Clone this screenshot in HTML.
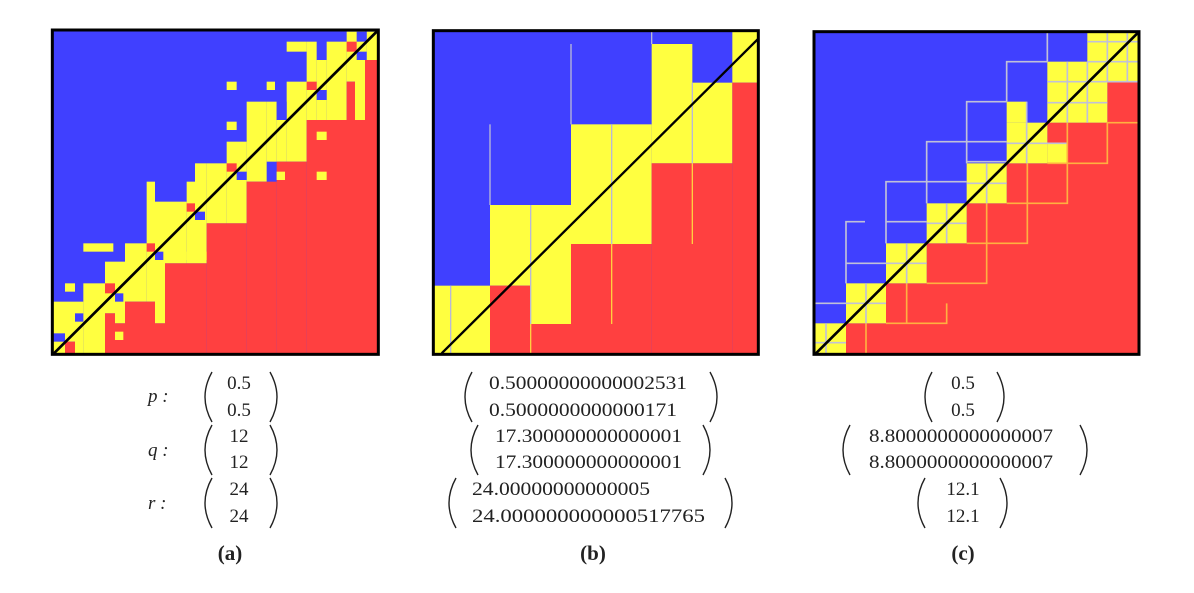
<!DOCTYPE html>
<html><head><meta charset="utf-8"><style>
html,body{margin:0;padding:0;background:#fff;}
svg{display:block;}
text{font-family:"Liberation Serif",serif;fill:#222;}
</style></head><body>
<svg width="1194" height="593" viewBox="0 0 1194 593" xmlns="http://www.w3.org/2000/svg">
<rect width="1194" height="593" fill="#fff"/>

<!-- Panel (a) -->
<svg x="40" y="20" width="350" height="345" viewBox="0 0 1050 1035">
<rect x="37" y="30" width="978" height="973" fill="#4040ff"/>
<g fill="#ffff40">
<rect x="37" y="845" width="38" height="158"/>
<rect x="75" y="845" width="30" height="120"/>
<rect x="105" y="845" width="25" height="158"/>
<rect x="130" y="790" width="65" height="213"/>
<rect x="130" y="670" width="90" height="25"/>
<rect x="195" y="725" width="30" height="155"/>
<rect x="225" y="725" width="30" height="185"/>
<rect x="255" y="670" width="65" height="175"/>
<rect x="320" y="485" width="25" height="360"/>
<rect x="345" y="545" width="30" height="365"/>
<rect x="375" y="545" width="65" height="185"/>
<rect x="440" y="485" width="25" height="245"/>
<rect x="465" y="430" width="35" height="300"/>
<rect x="440" y="695" width="120" height="25"/>
<rect x="500" y="430" width="60" height="180"/>
<rect x="560" y="365" width="60" height="245"/>
<rect x="620" y="245" width="60" height="240"/>
<rect x="680" y="245" width="30" height="180"/>
<rect x="710" y="300" width="30" height="125"/>
<rect x="740" y="185" width="60" height="240"/>
<rect x="800" y="65" width="30" height="235"/>
<rect x="830" y="120" width="30" height="180"/>
<rect x="860" y="65" width="60" height="235"/>
<rect x="920" y="35" width="55" height="150"/>
<rect x="950" y="65" width="30" height="55"/>
<rect x="980" y="35" width="35" height="85"/>
<rect x="740" y="65" width="60" height="30"/>
<rect x="75" y="790" width="30" height="25"/>
<rect x="560" y="185" width="30" height="25"/>
<rect x="680" y="185" width="25" height="25"/>
<rect x="560" y="305" width="30" height="25"/>
<rect x="830" y="335" width="30" height="25"/>
<rect x="710" y="455" width="25" height="25"/>
<rect x="830" y="455" width="30" height="25"/>
<rect x="945" y="120" width="30" height="180"/>
</g>
<g fill="#ff4040">
<rect x="75" y="965" width="30" height="38"/>
<rect x="195" y="880" width="30" height="123"/>
<rect x="225" y="910" width="30" height="93"/>
<rect x="255" y="845" width="90" height="158"/>
<rect x="345" y="910" width="30" height="93"/>
<rect x="375" y="730" width="125" height="273"/>
<rect x="500" y="610" width="120" height="393"/>
<rect x="620" y="485" width="90" height="518"/>
<rect x="710" y="425" width="90" height="578"/>
<rect x="800" y="300" width="145" height="703"/>
<rect x="945" y="300" width="70" height="703"/>
<rect x="975" y="120" width="40" height="180"/>
<rect x="920" y="185" width="25" height="115"/>
<rect x="195" y="790" width="30" height="30"/>
<rect x="320" y="670" width="25" height="25"/>
<rect x="440" y="550" width="25" height="25"/>
<rect x="560" y="430" width="30" height="25"/>
<rect x="800" y="185" width="30" height="25"/>
<rect x="920" y="65" width="30" height="30"/>
</g>
<g fill="#ffff40">
<rect x="225" y="935" width="25" height="25"/>
<rect x="830" y="335" width="30" height="25"/>
<rect x="830" y="455" width="30" height="25"/>
<rect x="710" y="455" width="25" height="25"/>
</g>
<g fill="#4040ff">
<rect x="37" y="940" width="38" height="25"/>
<rect x="105" y="880" width="25" height="25"/>
<rect x="225" y="820" width="25" height="25"/>
<rect x="345" y="695" width="25" height="25"/>
<rect x="465" y="575" width="30" height="25"/>
<rect x="590" y="455" width="30" height="25"/>
<rect x="830" y="210" width="30" height="30"/>
<rect x="950" y="95" width="30" height="25"/>
<rect x="950" y="35" width="30" height="30"/>
<rect x="710" y="245" width="30" height="55"/>
<rect x="345" y="575" width="95" height="0"/>
</g>
<line x1="42" y1="1000" x2="1012" y2="33" stroke="#000" stroke-width="8"/>
<rect x="37" y="30" width="978" height="973" fill="none" stroke="#000" stroke-width="9"/>
</svg>

<!-- Panel (b) -->
<svg x="420" y="20" width="350" height="345" viewBox="0 0 1050 1035">
<rect x="40" y="32" width="975" height="971" fill="#4040ff"/>
<g fill="#ffff40">
<rect x="40" y="797" width="170" height="206"/>
<rect x="210" y="555" width="122" height="242"/>
<rect x="332" y="555" width="121" height="357"/>
<rect x="453" y="313" width="242" height="359"/>
<rect x="695" y="72" width="122" height="358"/>
<rect x="817" y="188" width="120" height="242"/>
<rect x="937" y="32" width="78" height="156"/>
</g>
<g fill="#ff4040">
<rect x="210" y="797" width="122" height="206"/>
<rect x="332" y="912" width="121" height="91"/>
<rect x="453" y="672" width="242" height="331"/>
<rect x="695" y="430" width="242" height="573"/>
<rect x="937" y="188" width="78" height="815"/>
</g>
<g stroke="#b8b8d8" stroke-width="4">
<line x1="210" y1="313" x2="210" y2="555"/>
<line x1="453" y1="72" x2="453" y2="313"/>
<line x1="575" y1="313" x2="575" y2="672"/>
<line x1="817" y1="188" x2="817" y2="430"/>
<line x1="92" y1="797" x2="92" y2="1003"/>
<line x1="332" y1="555" x2="332" y2="912"/>
<line x1="695" y1="32" x2="695" y2="72"/>
</g>
<g stroke="#ffd040" stroke-width="4">
<line x1="575" y1="672" x2="575" y2="912"/>
<line x1="817" y1="430" x2="817" y2="672"/>
<line x1="332" y1="912" x2="332" y2="1003"/>
</g>
<line x1="65" y1="1000" x2="1013" y2="58" stroke="#000" stroke-width="7"/>
<rect x="40" y="32" width="975" height="971" fill="none" stroke="#000" stroke-width="9"/>
</svg>

<!-- Panel (c) -->
<svg x="800" y="20" width="350" height="345" viewBox="0 0 1050 1035">
<rect x="42" y="35" width="975" height="968" fill="#4040ff"/>
<polygon fill="#ff4040" points="138,1003 138,910 258,910 258,790 380,790 380,670 500,670 500,550 620,550 620,430 742,430 742,308 922,308 922,185 1017,185 1017,1003"/>
<g fill="#ffff40">
<rect x="42" y="910" width="96" height="93"/>
<rect x="138" y="790" width="120" height="120"/>
<rect x="258" y="670" width="122" height="120"/>
<rect x="380" y="550" width="120" height="120"/>
<rect x="500" y="430" width="120" height="120"/>
<rect x="620" y="245" width="60" height="63"/>
<rect x="620" y="308" width="122" height="122"/>
<rect x="742" y="370" width="60" height="60"/>
<rect x="742" y="125" width="180" height="183"/>
<rect x="862" y="35" width="155" height="150"/>
</g>
<g stroke="#c0c0d8" stroke-width="5" fill="none">
<polyline points="42,850 138,850"/>
<polyline points="138,790 138,605 195,605"/>
<polyline points="138,730 258,730"/>
<polyline points="258,670 258,485 500,485"/>
<polyline points="258,605 380,605"/>
<polyline points="380,550 380,365 620,365"/>
<polyline points="500,425 620,425"/>
<polyline points="500,430 500,245 620,245"/>
<polyline points="620,245 620,125 742,125"/>
<polyline points="742,125 742,35"/>
<line x1="78" y1="910" x2="78" y2="1003"/><line x1="42" y1="968" x2="138" y2="968"/>
<line x1="198" y1="790" x2="198" y2="910"/><line x1="138" y1="850" x2="258" y2="850"/>
<line x1="320" y1="670" x2="320" y2="790"/><line x1="258" y1="730" x2="380" y2="730"/>
<line x1="440" y1="550" x2="440" y2="670"/><line x1="380" y1="610" x2="500" y2="610"/>
<line x1="560" y1="430" x2="560" y2="550"/><line x1="500" y1="490" x2="620" y2="490"/>
<line x1="680" y1="245" x2="680" y2="430"/><line x1="620" y1="370" x2="802" y2="370"/>
<line x1="802" y1="125" x2="802" y2="308"/><line x1="862" y1="125" x2="862" y2="308"/>
<line x1="742" y1="185" x2="1017" y2="185"/><line x1="742" y1="248" x2="922" y2="248"/>
<line x1="922" y1="35" x2="922" y2="185"/><line x1="982" y1="35" x2="982" y2="185"/>
<line x1="862" y1="65" x2="1017" y2="65"/><line x1="862" y1="125" x2="1017" y2="125"/>
</g>
<g stroke="#ffb040" stroke-width="5" fill="none">
<polyline points="198,910 198,1003"/>
<polyline points="320,790 320,910"/>
<polyline points="258,910 440,910 440,850"/>
<polyline points="380,790 560,790 560,550"/>
<polyline points="500,670 682,670 682,430"/>
<polyline points="620,550 802,550 802,308"/>
<polyline points="742,430 922,430 922,308 1017,308"/>
</g>
<line x1="48" y1="1000" x2="1014" y2="38" stroke="#000" stroke-width="8"/>
<rect x="42" y="35" width="975" height="968" fill="none" stroke="#000" stroke-width="9"/>
</svg>

<!-- Text -->
<g font-size="19">
<text x="148" y="402" font-style="italic">p :</text>
<text x="148" y="456" font-style="italic">q :</text>
<text x="148" y="509" font-style="italic">r :</text>
<text x="239" y="389" text-anchor="middle">0.5</text>
<text x="239" y="416" text-anchor="middle">0.5</text>
<text x="239" y="442" text-anchor="middle">12</text>
<text x="239" y="468" text-anchor="middle">12</text>
<text x="239" y="495" text-anchor="middle">24</text>
<text x="239" y="522" text-anchor="middle">24</text>

<text x="489" y="389" textLength="198" lengthAdjust="spacingAndGlyphs">0.50000000000002531</text>
<text x="489" y="416" textLength="188" lengthAdjust="spacingAndGlyphs">0.5000000000000171</text>
<text x="495" y="442" textLength="187" lengthAdjust="spacingAndGlyphs">17.300000000000001</text>
<text x="495" y="468" textLength="187" lengthAdjust="spacingAndGlyphs">17.300000000000001</text>
<text x="472" y="495" textLength="178" lengthAdjust="spacingAndGlyphs">24.00000000000005</text>
<text x="472" y="522" textLength="233" lengthAdjust="spacingAndGlyphs">24.000000000000517765</text>

<text x="963" y="389" text-anchor="middle">0.5</text>
<text x="963" y="416" text-anchor="middle">0.5</text>
<text x="869" y="442" textLength="184" lengthAdjust="spacingAndGlyphs">8.8000000000000007</text>
<text x="869" y="468" textLength="184" lengthAdjust="spacingAndGlyphs">8.8000000000000007</text>
<text x="963" y="495" text-anchor="middle">12.1</text>
<text x="963" y="522" text-anchor="middle">12.1</text>
</g>
<g font-size="21" font-weight="bold" text-anchor="middle">
<text x="230" y="560">(a)</text>
<text x="593" y="560">(b)</text>
<text x="963" y="560">(c)</text>
</g>

<!-- Parentheses -->
<g stroke="#222" stroke-width="1.4" fill="none">
<path d="M212 372 Q198 397 212 422"/><path d="M270 372 Q284 397 270 422"/>
<path d="M212 425 Q198 450 212 475"/><path d="M270 425 Q284 450 270 475"/>
<path d="M212 478 Q198 503 212 528"/><path d="M270 478 Q284 503 270 528"/>

<path d="M472 372 Q458 397 472 422"/><path d="M710 372 Q724 397 710 422"/>
<path d="M478 425 Q464 450 478 475"/><path d="M703 425 Q717 450 703 475"/>
<path d="M456 478 Q442 503 456 528"/><path d="M725 478 Q739 503 725 528"/>

<path d="M932 372 Q918 397 932 422"/><path d="M997 372 Q1011 397 997 422"/>
<path d="M850 425 Q836 450 850 475"/><path d="M1080 425 Q1094 450 1080 475"/>
<path d="M925 478 Q911 503 925 528"/><path d="M1000 478 Q1014 503 1000 528"/>
</g>
</svg>
</body></html>
